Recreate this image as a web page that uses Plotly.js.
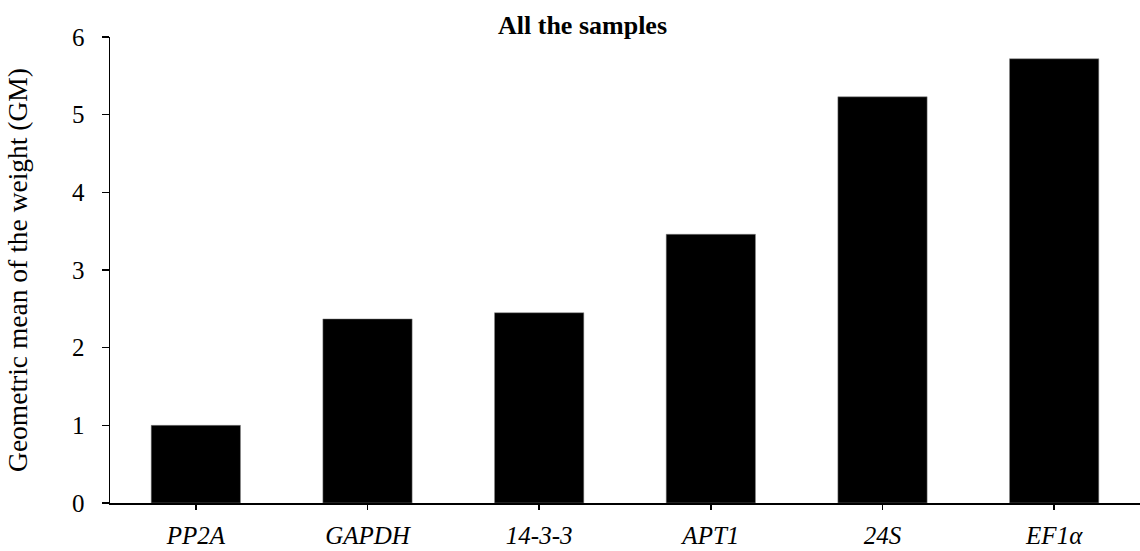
<!DOCTYPE html>
<html>
<head>
<meta charset="utf-8">
<script src="https://cdn.plot.ly/plotly-3.0.1.min.js"></script>
<style>html,body{margin:0;padding:0;background:#fff;}#chart{width:1140px;height:551px;}</style>
</head>
<body>
<div id="chart"></div>
<script>
const genes = ["PP2A", "GAPDH", "14-3-3", "APT1", "24S", "EF1α"];
const gmValues = [1.0, 2.37, 2.45, 3.46, 5.23, 5.72];
const yTicks = [0, 1, 2, 3, 4, 5, 6];

const fontFam = "Liberation Serif, Times New Roman, serif";

const trace = {
  type: "bar",
  x: genes,
  y: gmValues,
  marker: {color: "#000000", line: {color: "#888888", width: 0.5}},
  hoverinfo: "x+y"
};

const layout = {
  width: 1140,
  height: 551,
  margin: {l: 110, r: 0, t: 37, b: 48},
  paper_bgcolor: "#ffffff",
  plot_bgcolor: "#ffffff",
  bargap: 0.48,
  showlegend: false,
  font: {family: fontFam, color: "#000000"},
  title: {
    text: "<b>All the samples</b>",
    font: {family: fontFam, size: 26, color: "#000000"},
    x: 0.511,
    xref: "container",
    xanchor: "center",
    y: 0.955,
    yref: "container",
    yanchor: "middle"
  },
  xaxis: {
    type: "category",
    showline: true,
    linecolor: "#000000",
    linewidth: 1.5,
    ticks: "outside",
    ticklen: 5,
    tickwidth: 1.5,
    tickcolor: "#000000",
    ticklabelstandoff: 4,
    tickfont: {family: fontFam, size: 25, color: "#000000", style: "italic"},
    showgrid: false,
    zeroline: false,
    fixedrange: true
  },
  yaxis: {
    range: [0, 6],
    tickvals: yTicks,
    showline: true,
    linecolor: "#000000",
    linewidth: 1.5,
    ticks: "outside",
    ticklen: 7,
    tickwidth: 1.5,
    tickcolor: "#000000",
    ticklabelstandoff: 12,
    tickfont: {family: fontFam, size: 25, color: "#000000"},
    showgrid: false,
    zeroline: false,
    title: {
      text: "Geometric mean of the weight (GM)",
      font: {family: fontFam, size: 27.5, color: "#000000"},
      standoff: 36
    },
    fixedrange: true
  }
};

Plotly.newPlot("chart", [trace], layout, {displayModeBar: false, staticPlot: true});
</script>
</body>
</html>
